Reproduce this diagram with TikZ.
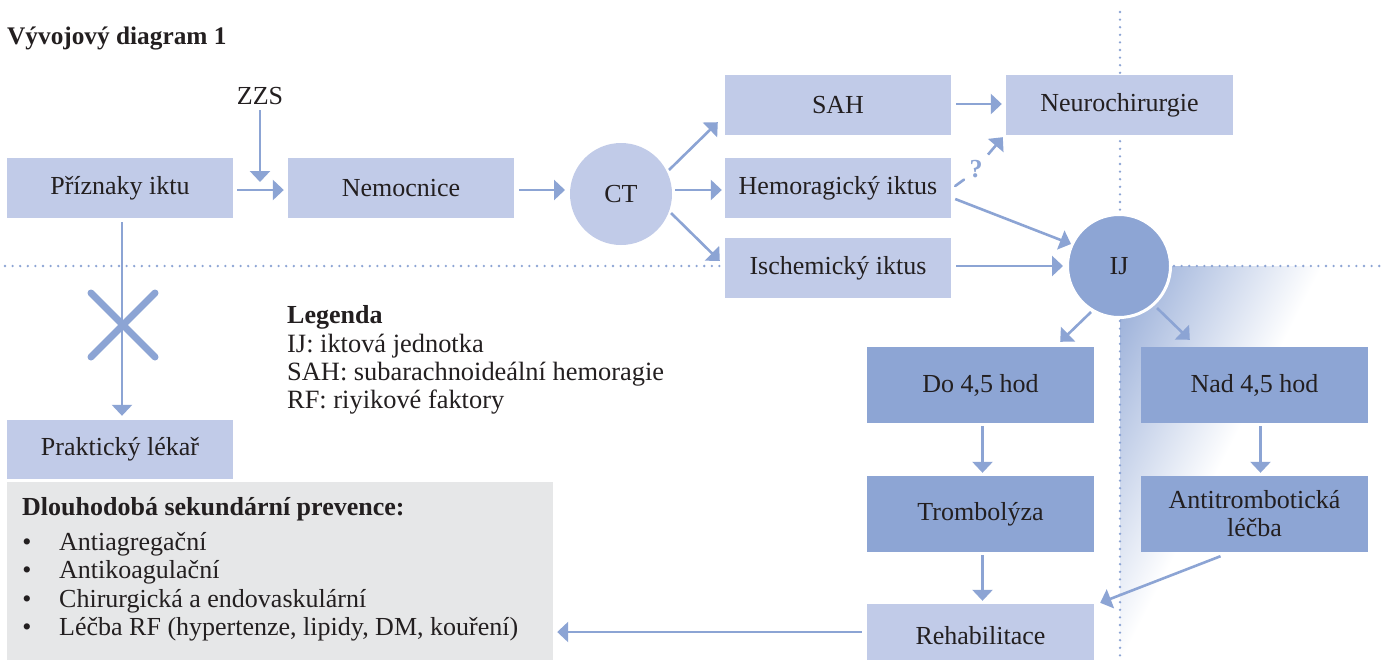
\documentclass[tikz,border=0pt]{standalone}
\usepackage{fontspec}
\setmainfont{Liberation Serif}
\usetikzlibrary{arrows.meta,calc}
\definecolor{lblue}{HTML}{C1CBE8}
\definecolor{dblue}{HTML}{8DA5D4}
\definecolor{ablue}{HTML}{8CA4D4}
\definecolor{gbox}{HTML}{E6E7E8}
\definecolor{ink}{HTML}{231F20}
\begin{document}
\begin{tikzpicture}[x=1pt,y=-1pt,
  txt/.style={text=ink, font=\fontsize{26}{28}\selectfont, inner sep=0pt},
  lbox/.style={txt, fill=lblue, minimum width=226pt, minimum height=60pt, align=center},
  dbox/.style={txt, fill=dblue, minimum width=227pt, minimum height=76pt, align=center},
  arr/.style={draw=ablue, line width=2.6pt, -{Triangle[length=11pt,width=20pt]}},
  ln/.style={draw=ablue, line width=2.6pt},
  dots/.style={draw=ablue, line width=2.6pt, line cap=round, dash pattern=on 0pt off 7.6pt},
]
\useasboundingbox (0,0) rectangle (1381,659);
\fill[white] (0,0) rectangle (1381,659);

% gradient
\begin{scope}
  \clip (1120,266) rectangle (1381,659);
  \begin{scope}[transform canvas={shift={(1120,266)},rotate=-27}]
    \shade[left color=dblue, right color=white] (-5,-300) rectangle (180,700);
  \end{scope}
\end{scope}

% dotted guide lines
\draw[dots] (5,266) -- (722,266);
\draw[dots] (1174,266) -- (1381,266);
\draw[dots] (1120,12) -- (1120,214);
\draw[dots] (1120,321) -- (1120,659);

% title
\node[txt, anchor=base west, font=\fontsize{25.3}{28}\selectfont\bfseries] (title) at (7,44) {Vývojový diagram 1};

% boxes
\node[lbox] (prz) at (120,188) {Příznaky iktu};
\node[lbox] (nem) at (401,188) {Nemocnice};
\node[txt, circle, fill=lblue, minimum size=102pt] (ct) at (621,194) {CT};
\node[lbox] (sah) at (838,105) {SAH};
\node[lbox] (hemo) at (838,188) {Hemoragický iktus};
\node[lbox] (isch) at (838,268) {Ischemický iktus};
\node[lbox, minimum width=227pt] (neuro) at (1119.5,105) {Neurochirurgie};
\node[txt, circle, fill=dblue, draw=white, line width=3pt, minimum size=103pt] (ij) at (1119,266) {IJ};
\node[dbox] (do) at (980.5,385) {Do 4,5 hod};
\node[dbox] (tromb) at (980.5,514) {Trombolýza};
\node[lbox, minimum width=227pt, minimum height=64pt] (rehab) at (980.5,636) {Rehabilitace};
\node[dbox] (nad) at (1254.5,385) {Nad 4,5 hod};
\node[dbox] (anti) at (1254.5,514) {Antitrombotická\\léčba};
\node[lbox, minimum height=59pt] (prak) at (120,449.5) {Praktický lékař};
\node[txt, anchor=base] (zzs) at (260,104) {ZZS};
\coordinate (zzsend) at (260,182);

% prevention box
\node[fill=gbox, minimum width=546pt, minimum height=180pt, inner sep=0pt] (prev) at (280,572) {};
\node[txt, anchor=base west, font=\fontsize{26}{28}\selectfont\bfseries] (prevh) at (22,515) {Dlouhodobá sekundární prevence:};
\foreach \y/\t [count=\i] in {550/Antiagregační, 578/Antikoagulační, 607/Chirurgická a endovaskulární, 635/{Léčba RF (hypertenze, lipidy, DM, kouření)}}{
  \node[txt, anchor=base] (b\i) at (27,\y) {•};
  \node[txt, anchor=base west] (p\i) at (59,\y) {\t};
}

% legend
\node[txt, anchor=base west, font=\fontsize{26}{28}\selectfont\bfseries] (leg) at (287,323) {Legenda};
\node[txt, anchor=base west, font=\fontsize{26.4}{28}\selectfont] (leg1) at (287,352) {IJ: iktová jednotka};
\node[txt, anchor=base west, font=\fontsize{26.4}{28}\selectfont] (leg2) at (287,380) {SAH: subarachnoideální hemoragie};
\node[txt, anchor=base west, font=\fontsize{26.4}{28}\selectfont] (leg3) at (287,408) {RF: riyikové faktory};

% arrows
\draw[arr] ($(zzs.south)+(0,6)$) -- (zzsend);
\draw[arr] ($(prz.east)+(4,2)$) -- ($(nem.west)+(-4,2)$);
\draw[arr] ($(nem.east)+(5,2)$) -- ($(ct.center)+(-56,-4)$);
\draw[arr] ($(ct.center)+(48,-24)$) -- ($(sah.south west)+(-7,-13)$);
\draw[arr] ($(ct.center)+(54,-4)$) -- ($(hemo.west)+(-3,2)$);
\draw[arr] ($(ct.center)+(50,19)$) -- ($(isch.west)+(-5,-7)$);
\draw[arr] ($(sah.east)+(5,-1)$) -- ($(neuro.west)+(-4,-1)$);
\node[txt, text=ablue, font=\fontsize{26}{28}\selectfont\bfseries, anchor=base] (q) at (976,177) {?};
\draw[ln, line cap=round] ($(hemo.east)+(4,-2)$) -- ($(q.center)+(-12,11)$);
\draw[arr] ($(q.center)+(12,-14)$) -- ($(neuro.south west)+(-3,2)$);
\draw[arr] ($(hemo.east)+(4,11)$) -- ($(ij.center)+(-48,-22)$);
\draw[arr] ($(isch.east)+(5,-2)$) -- ($(ij.west)+(-3,0)$);
\draw[arr] ($(ij.center)+(-28,46)$) -- ($(do.north east)+(-34,-5)$);
\draw[arr] ($(ij.center)+(38,42)$) -- ($(nad.north west)+(49,-7)$);
\draw[arr] ($(do.south)+(2,3)$) -- ($(tromb.north)+(2,-3)$);
\draw[arr] ($(tromb.south)+(2,3)$) -- ($(rehab.north)+(2,-3)$);
\draw[arr] ($(nad.south)+(6,3)$) -- ($(anti.north)+(6,-3)$);
\draw[arr] ($(anti.south)+(-34,4)$) -- ($(rehab.north east)+(6,-1)$);
\draw[arr] ($(rehab.west)+(-5,-4)$) -- ($(prev.east)+(4,60)$);
\draw[arr] ($(prz.south)+(2,4)$) -- ($(prak.north)+(2,-4)$);

% cross
\draw[draw=ablue, line width=7pt, line cap=round] (91,293) -- (155,357) (155,293) -- (91,357);
\end{tikzpicture}
\end{document}
